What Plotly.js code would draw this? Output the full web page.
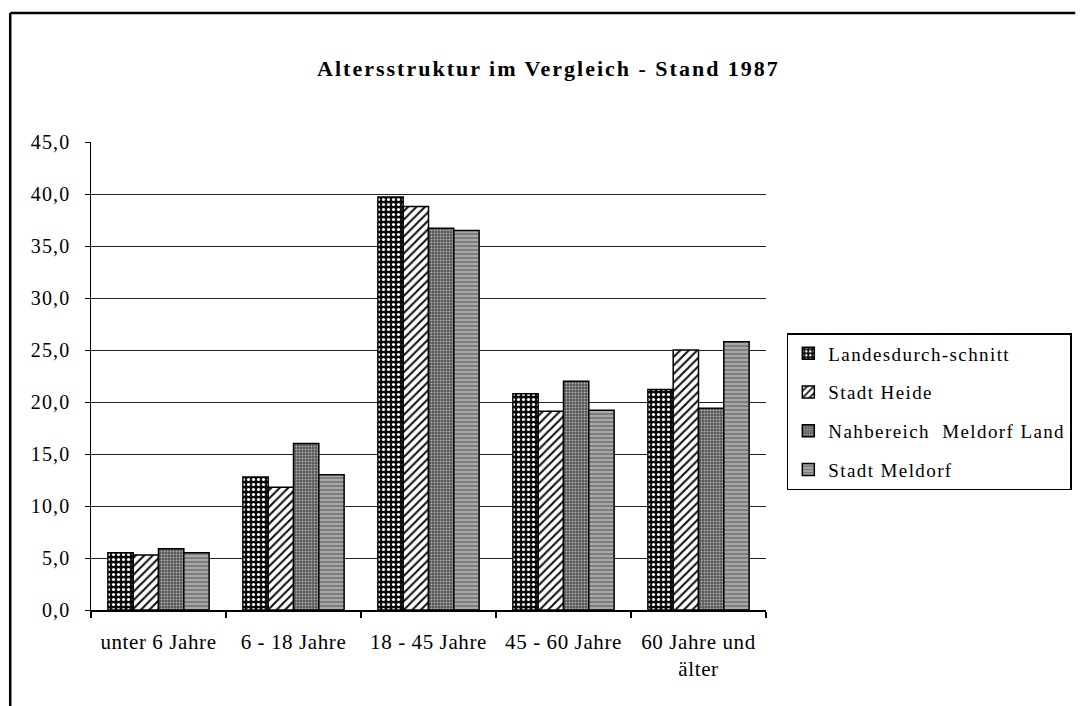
<!DOCTYPE html>
<html>
<head>
<meta charset="utf-8">
<script src="https://cdn.plot.ly/plotly-3.0.1.min.js"></script>
<style>
  html, body { margin: 0; padding: 0; background: #fff; }
  #chart { width: 1084px; height: 706px; }
  .gtitle { letter-spacing: 2px; }
  .xtick text { letter-spacing: 0.6px; }
  .ytick text { letter-spacing: 1.2px; }
  .legendtext { letter-spacing: 1.4px; }
</style>
</head>
<body>
<div id="chart"></div>
<script>
const categories = ["unter 6 Jahre", "6 - 18 Jahre", "18 - 45 Jahre", "45 - 60 Jahre", "60 Jahre und<br>älter"];
const seriesNames = ["Landesdurch-schnitt", "Stadt Heide", "Nahbereich\u00a0 Meldorf Land", "Stadt Meldorf"];
const landesdurchschnitt = [5.5, 12.8, 39.7, 20.8, 21.2];
const stadtHeide = [5.3, 11.8, 38.8, 19.1, 25.0];
const nahbereichMeldorfLand = [5.9, 16.0, 36.7, 22.0, 19.4];
const stadtMeldorf = [5.5, 13.0, 36.5, 19.2, 25.8];
const yTickValues = [0, 5, 10, 15, 20, 25, 30, 35, 40, 45];

const patterns = [
  {shape: ".", bgcolor: "#0a0a0a", fgcolor: "#ffffff", size: 5, solidity: 0.3},
  {shape: "/", bgcolor: "#ffffff", fgcolor: "#111111", size: 6, solidity: 0.35},
  {shape: ".", bgcolor: "#555555", fgcolor: "#b0b0b0", size: 3, solidity: 0.35},
  {shape: "-", bgcolor: "#7e7e7e", fgcolor: "#d2d2d2", size: 4, solidity: 0.25}
];
const values = [landesdurchschnitt, stadtHeide, nahbereichMeldorfLand, stadtMeldorf];

const traces = values.map((v, i) => ({
  type: "bar",
  name: seriesNames[i],
  legendgroup: "g" + i,
  x: categories,
  y: v,
  marker: {
    color: patterns[i].bgcolor,
    pattern: Object.assign({fillmode: "replace"}, patterns[i]),
    line: {color: "#000000", width: 1.5}
  },
  hoverinfo: "skip"
}));

// pixel -> paper helpers for the frame
const L = 91, R = 772, T = 142, B = 610;
const px = x => (x - L) / (R - L);
const py = y => (B - y) / (B - T);

const serif = "Liberation Serif";

const layout = {
  width: 1084,
  height: 706,
  autosize: false,
  margin: {l: L, r: 1084 - R, t: T, b: 706 - B, pad: 0},
  paper_bgcolor: "#ffffff",
  plot_bgcolor: "#ffffff",
  separators: ",.",
  font: {family: serif, color: "#000000"},
  title: {
    text: "Altersstruktur im Vergleich - Stand 1987",
    font: {family: serif, size: 22, weight: "bold", color: "#000000"},
    xref: "container", yref: "container",
    x: 0.506, xanchor: "center",
    y: 1 - 68 / 706, yanchor: "middle"
  },
  barmode: "group",
  bargap: 0.25,
  bargroupgap: 0,
  xaxis: {
    type: "category",
    showline: true, linecolor: "#000000", linewidth: 1.5,
    ticks: "outside", tickson: "boundaries", ticklen: 6, tickwidth: 1.5, tickcolor: "#000000",
    showgrid: false, zeroline: false,
    tickfont: {family: serif, size: 21, color: "#000000"},
    ticklabelstandoff: 12,
    fixedrange: true
  },
  yaxis: {
    range: [0, 45],
    tickvals: yTickValues,
    tickformat: ".1f",
    showline: true, linecolor: "#000000", linewidth: 1.5,
    ticks: "outside", ticklen: 5, tickwidth: 1, tickcolor: "#000000",
    showgrid: true, gridcolor: "#222222", gridwidth: 1,
    zeroline: false,
    tickfont: {family: serif, size: 20, color: "#000000"},
    ticklabelstandoff: 10,
    fixedrange: true
  },
  showlegend: true,
  legend: {
    x: px(793), y: py(333), xanchor: "left", yanchor: "top",
    bgcolor: "#ffffff", bordercolor: "#000000", borderwidth: 1.5,
    font: {family: serif, size: 19, color: "#000000"},
    traceorder: "grouped", tracegroupgap: 11
  },
  shapes: [
    {type: "line", xref: "paper", yref: "paper", x0: px(9.5), x1: px(1084), y0: py(13), y1: py(13), line: {color: "#000000", width: 2.5}},
    {type: "line", xref: "paper", yref: "paper", x0: px(9.5), x1: px(9.5), y0: py(13), y1: py(706), line: {color: "#000000", width: 2.5}}
  ]
};

Plotly.newPlot("chart", traces, layout, {staticPlot: true, displayModeBar: false});
</script>
</body>
</html>
